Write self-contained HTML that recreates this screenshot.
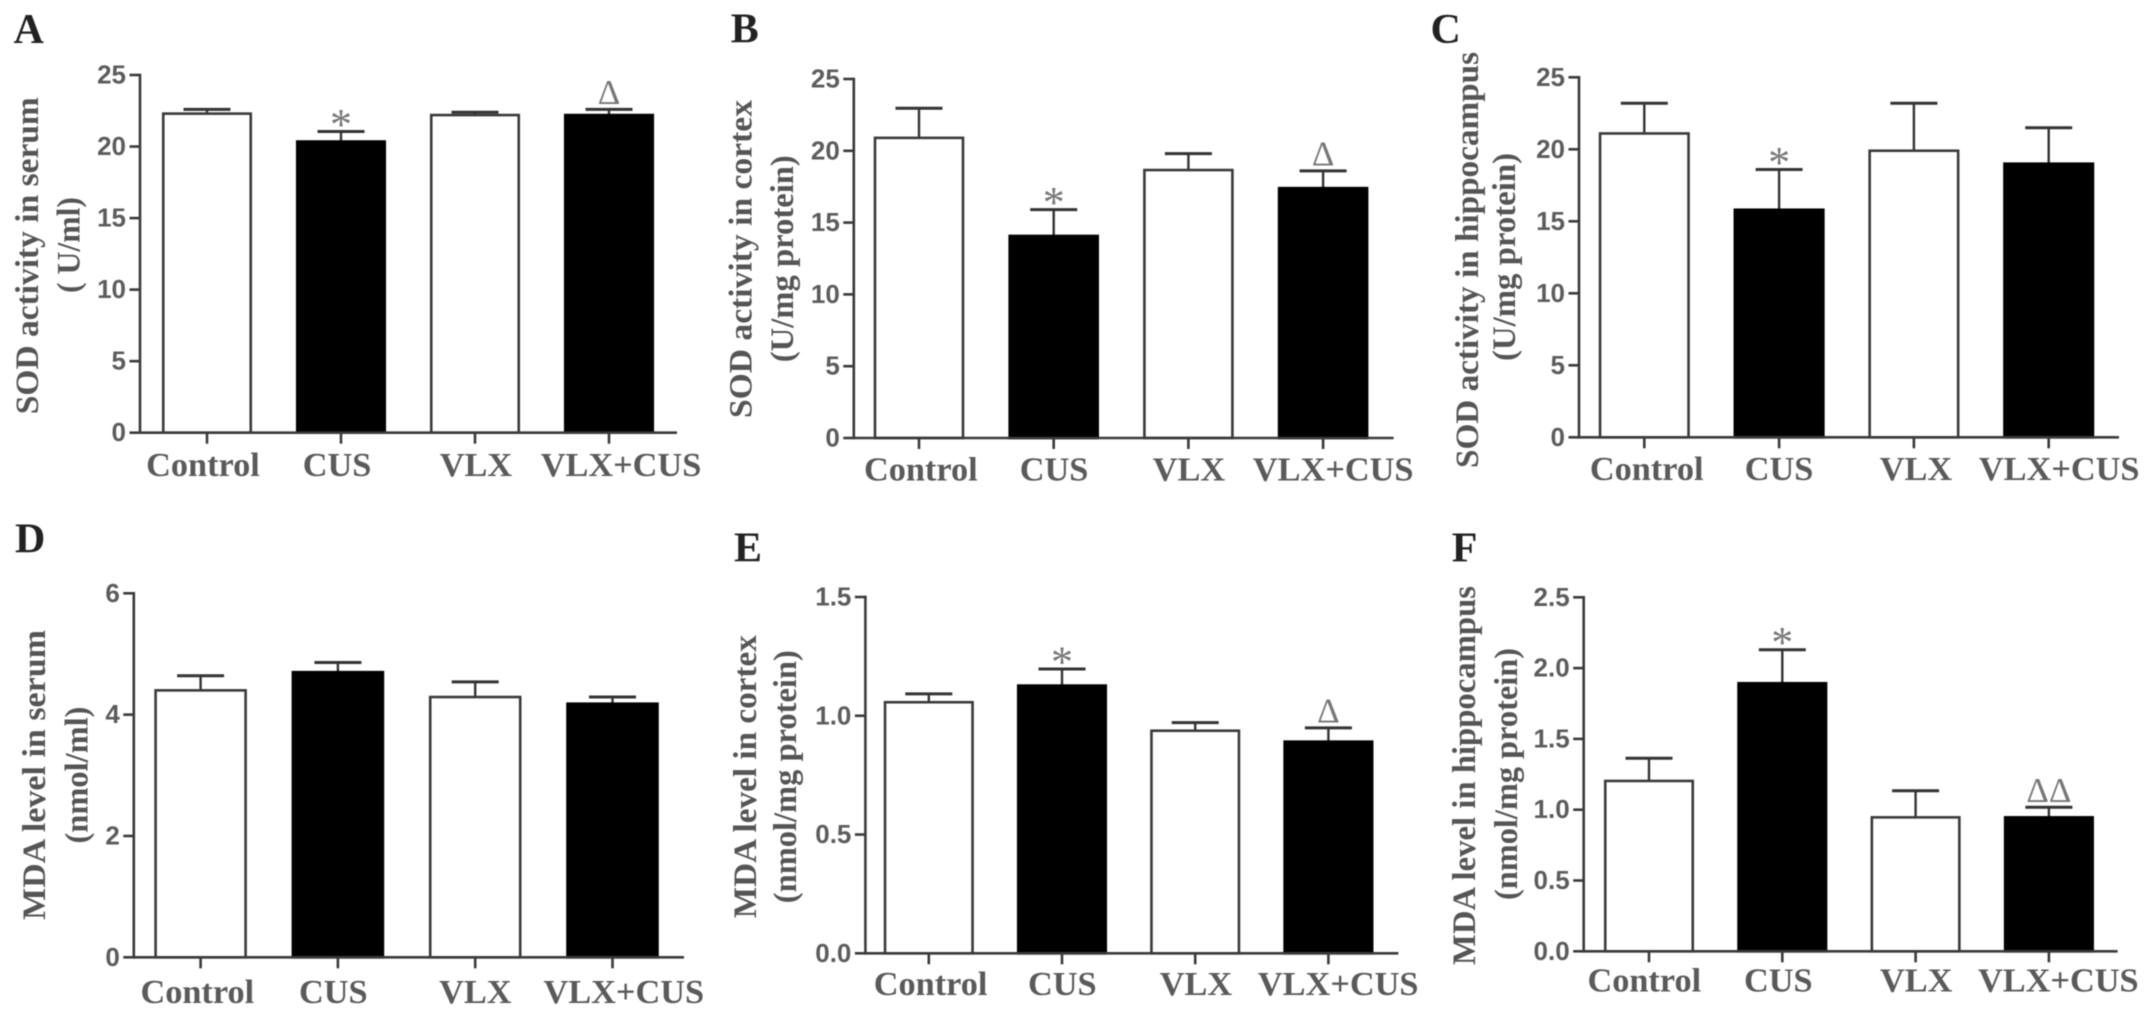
<!DOCTYPE html>
<html>
<head>
<meta charset="utf-8">
<title>SOD activity and MDA level panels</title>
<style>
html,body{margin:0;padding:0;background:#fff;}
#figure{display:block;width:2150px;height:1018px;filter:blur(0.55px);}
text{font-family:"Liberation Serif",serif;}
.tick-text{font-family:"Liberation Sans",sans-serif;font-weight:700;font-size:26px;fill:#5c5c5c;text-anchor:end;}
.cat-text{font-weight:700;font-size:34.3px;fill:#5a5a5a;text-anchor:middle;}
.title-text{font-weight:700;font-size:33px;fill:#555;text-anchor:middle;}
.letter-text{font-weight:700;font-size:42px;fill:#222;}
.star-text{font-size:44px;fill:#777;text-anchor:middle;}
.delta-text{font-size:35px;fill:#777;text-anchor:middle;}
</style>
</head>
<body>
<svg id="figure" xmlns="http://www.w3.org/2000/svg" width="2150" height="1018" viewBox="0 0 2150 1018"></svg>
<script>
const categories = ['Control', 'CUS', 'VLX', 'VLX+CUS'];
const barFills = ['#fff', '#000', '#fff', '#000'];

const valuesA = [22.3, 20.35, 22.2, 22.2];
const errorsA = [0.3, 0.7, 0.2, 0.4];
const ticksA = ['0', '5', '10', '15', '20', '25'];
const marksA = ['', '*', '', 'Δ'];

const valuesB = [20.9, 14.07, 18.66, 17.4];
const errorsB = [2.06, 1.83, 1.14, 1.2];
const ticksB = ['0', '5', '10', '15', '20', '25'];
const marksB = ['', '*', '', 'Δ'];

const valuesC = [21.1, 15.8, 19.9, 19.0];
const errorsC = [2.1, 2.8, 3.3, 2.5];
const ticksC = ['0', '5', '10', '15', '20', '25'];
const marksC = ['', '*', '', ''];

const valuesD = [4.4, 4.7, 4.29, 4.18];
const errorsD = [0.24, 0.16, 0.25, 0.11];
const ticksD = ['0', '2', '4', '6'];
const marksD = ['', '', '', ''];

const valuesE = [1.057, 1.127, 0.937, 0.891];
const errorsE = [0.035, 0.07, 0.034, 0.058];
const ticksE = ['0.0', '0.5', '1.0', '1.5'];
const marksE = ['', '*', '', 'Δ'];

const valuesF = [1.203, 1.893, 0.946, 0.946];
const errorsF = [0.16, 0.237, 0.188, 0.071];
const ticksF = ['0.0', '0.5', '1.0', '1.5', '2.0', '2.5'];
const marksF = ['', '*', '', 'ΔΔ'];

const panels = [
  {id:'a', letter:'A', lx:13.5, ly:43, values:valuesA, errors:errorsA, ticks:ticksA, marks:marksA,
   axisX:140, y0:432.7, yTop:75, c0:207, step:134, bw:90, end:677, catBase:476, catDx:[-4,-4,1,12],
   t1:'SOD activity in serum', t1x:38, t1c:255.7, t1l:317, t2:'( U/ml)', t2x:79.5, t2c:245, t2l:96},
  {id:'b', letter:'B', lx:730.7, ly:42.7, values:valuesB, errors:errorsB, ticks:ticksB, marks:marksB,
   axisX:853.8, y0:438, yTop:79, c0:919, step:134.7, bw:90.5, end:1393.6, catBase:480.7, catDx:[1.8,0.3,0.5,10.1],
   t1:'SOD activity in cortex', t1x:751.7, t1c:259, t1l:318, t2:'(U/mg protein)', t2x:793, t2c:258.7, t2l:207},
  {id:'c', letter:'C', lx:1430.5, ly:43, values:valuesC, errors:errorsC, ticks:ticksC, marks:marksC,
   axisX:1579, y0:437.3, yTop:77.3, c0:1644.3, step:134.8, bw:91, end:2119, catBase:480, catDx:[2.4,-0.1,2.1,10.5],
   t1:'SOD activity in hippocampus', t1x:1477.8, t1c:260, t1l:416, t2:'(U/mg protein)', t2x:1515, t2c:257, t2l:208},
  {id:'d', letter:'D', lx:15, ly:552.7, values:valuesD, errors:errorsD, ticks:ticksD, marks:marksD,
   axisX:133.8, y0:957.3, yTop:593.3, c0:200.6, step:137.3, bw:92.5, end:684, catBase:1003, catDx:[-3.3,-4.6,0.1,11.3],
   t1:'MDA level in serum', t1x:45, t1c:775, t1l:290, t2:'(nmol/ml)', t2x:87.7, t2c:775, t2l:137},
  {id:'e', letter:'E', lx:734, ly:561.7, values:valuesE, errors:errorsE, ticks:ticksE, marks:marksE,
   axisX:865.4, y0:953.3, yTop:597, c0:928.8, step:133.2, bw:90, end:1398.4, catBase:995, catDx:[1.8,0.3,0.7,9.8],
   t1:'MDA level in cortex', t1x:756, t1c:776.7, t1l:283, t2:'(nmol/mg protein)', t2x:796, t2c:776.7, t2l:253},
  {id:'f', letter:'F', lx:1451.7, ly:561.7, values:valuesF, errors:errorsF, ticks:ticksF, marks:marksF,
   axisX:1583.7, y0:951.3, yTop:597.3, c0:1649, step:133.3, bw:90, end:2117.6, catBase:991.7, catDx:[-4.7,-4,0.6,9.4],
   t1:'MDA level in hippocampus', t1x:1475, t1c:775.5, t1l:379, t2:'(nmol/mg protein)', t2x:1516.8, t2c:774, t2l:252}
];

const svg = document.getElementById('figure');
const NS = 'http://www.w3.org/2000/svg';

function make(tag, parent) {
  const el = document.createElementNS(NS, tag);
  parent.appendChild(el);
  return el;
}
function line(parent, x1, y1, x2, y2, w, color) {
  const el = make('line', parent);
  el.setAttribute('x1', x1);
  el.setAttribute('y1', y1);
  el.setAttribute('x2', x2);
  el.setAttribute('y2', y2);
  el.setAttribute('stroke', color);
  el.setAttribute('stroke-width', w);
  return el;
}
function label(parent, cls, x, y, str) {
  const el = make('text', parent);
  el.setAttribute('class', cls);
  el.setAttribute('x', x);
  el.setAttribute('y', y);
  el.textContent = str;
  return el;
}
function rotated(parent, str, x, c, len) {
  const el = make('text', parent);
  el.setAttribute('class', 'title-text');
  el.setAttribute('transform', 'translate(' + x + ',' + c + ') rotate(-90)');
  el.setAttribute('textLength', len);
  el.setAttribute('lengthAdjust', 'spacingAndGlyphs');
  el.textContent = str;
  return el;
}

panels.forEach(function (p) {
  const maxTick = parseFloat(p.ticks[p.ticks.length - 1]);
  const yScale = function (v) { return p.y0 - (v / maxTick) * (p.y0 - p.yTop); };
  const xScale = function (i) { return p.c0 + i * p.step; };

  const g = make('g', svg);
  
  

  const letter = label(g, 'letter-text', p.lx, p.ly, p.letter);
  
  

  const title1 = rotated(g, p.t1, p.t1x, p.t1c, p.t1l);
  
  

  const title2 = rotated(g, p.t2, p.t2x, p.t2c, p.t2l);
  
  

  p.values.forEach(function (v, i) {
    const cx = xScale(i);
    const top = yScale(v);
    const capY = yScale(v + p.errors[i]);

    const stem = line(g, cx, top, cx, capY, 2.4, '#333');
    
    

    const cap = line(g, cx - 23.5, capY, cx + 23.5, capY, 3, '#333');
    
    

    const bar = make('rect', g);
    bar.setAttribute('x', cx - p.bw / 2 + 1.25);
    bar.setAttribute('y', top);
    bar.setAttribute('width', p.bw - 2.5);
    bar.setAttribute('height', p.y0 - top);
    bar.setAttribute('fill', barFills[i]);
    bar.setAttribute('stroke', barFills[i] === '#000' ? '#000' : '#3a3a3a');
    bar.setAttribute('stroke-width', 2.6);
    
    

    const xTick = line(g, cx, p.y0, cx, p.y0 + 11, 2.6, '#3a3a3a');
    
    

    const cat = label(g, 'cat-text', cx + p.catDx[i], p.catBase, categories[i]);
    
    

    if (p.marks[i] === '*') {
      const star = label(g, 'star-text', cx, capY - 13 + 20.5, '*');
      
      
    } else if (p.marks[i]) {
      const delta = label(g, 'delta-text', cx, capY - 5.5, p.marks[i]);
      
      
    }
  });

  const yAxis = line(g, p.axisX, p.yTop - 1.3, p.axisX, p.y0 + 1.3, 2.6, '#3a3a3a');
  
  

  const xAxis = line(g, p.axisX, p.y0, p.end, p.y0, 2.6, '#3a3a3a');
  
  

  p.ticks.forEach(function (t) {
    const ty = yScale(parseFloat(t));
    const yTick = line(g, p.axisX - 10.5, ty, p.axisX, ty, 2.6, '#3a3a3a');
    
    

    const tickText = label(g, 'tick-text', p.axisX - 14, ty + 8.5, t);
    
    
  });
});
</script>
</body>
</html>
